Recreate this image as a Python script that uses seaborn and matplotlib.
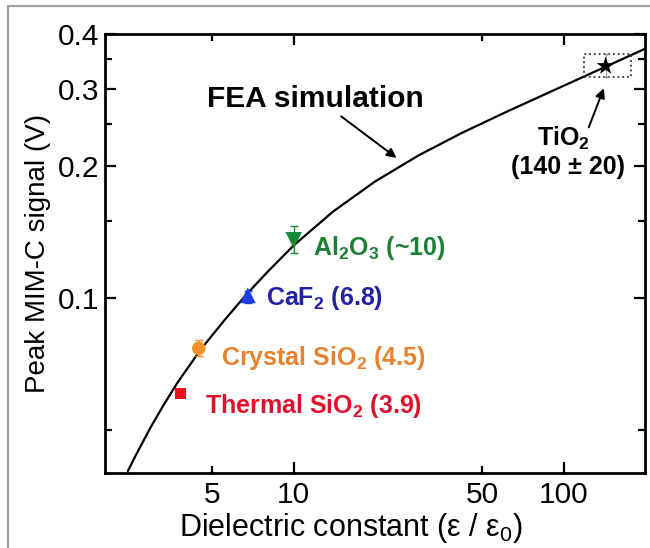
import matplotlib
matplotlib.use('Agg')
import matplotlib.pyplot as plt
from matplotlib.patches import Rectangle
import seaborn as sns

# FEA simulation curve
FEA_EPS = [2.43, 2.6, 2.95, 3.3, 3.72, 4.52, 5.5, 6.64, 8.0, 10.0, 14.0, 20.0, 29.0, 42.0, 62.0, 90.0, 130.0, 201.0]
FEA_V = [0.0404, 0.0439, 0.0508, 0.0572, 0.0644, 0.0764, 0.0887, 0.1016, 0.1149, 0.132,
         0.1577, 0.1845, 0.2116, 0.2382, 0.2667, 0.2961, 0.3281, 0.3707]

# measured films
MAT_LABELS = [r'Thermal SiO$_\mathbf{2}$ (3.9)', r'Crystal SiO$_\mathbf{2}$ (4.5)',
              r'CaF$_\mathbf{2}$ (6.8)', r'Al$_\mathbf{2}$O$_\mathbf{3}$ (~10)']
MAT_EPS = [3.8, 4.45, 6.76, 10.0]
MAT_V = [0.0607, 0.0769, 0.1016, 0.1356]
MAT_V_LO = [0.0607, 0.0737, 0.0974, 0.1267]
MAT_V_HI = [0.0607, 0.0802, 0.1040, 0.1460]
MAT_MARKERS = ['s', 'o', '^', 'v']
MAT_SIZES = [64, 95, 130, 140]
MAT_COLORS = ['#e8101e', '#f39124', '#1f3fe0', '#138a33']
TEXT_COLORS = ['#e0102a', '#e8822e', '#2222a8', '#1b7f35']
LABEL_OFFSETS = [(18, -14.4), (15.8, -12.2), (13, -7.2), (13.7, -10.8)]

# TiO2 point with its uncertainty box
TIO2_EPS = 143.0
TIO2_V = 0.338
TIO2_EPS_RANGE = [119.0, 177.0]
TIO2_V_RANGE = [0.320, 0.361]

X_MAJOR = [10, 100]
X_MINOR = [5, 50]
Y_MAJOR = [0.1, 0.2, 0.3, 0.4]
Y_MINOR = [0.05, 0.15, 0.25, 0.35]

sns.set_theme(style='ticks')
plt.rcParams['font.family'] = ['Liberation Sans', 'DejaVu Sans']
plt.rcParams['mathtext.fontset'] = 'custom'
plt.rcParams['mathtext.rm'] = 'Liberation Sans'
plt.rcParams['mathtext.it'] = 'Liberation Sans:italic'
plt.rcParams['mathtext.bf'] = 'Liberation Sans:bold'
plt.rcParams['text.color'] = 'black'
plt.rcParams['axes.labelcolor'] = 'black'
plt.rcParams['xtick.color'] = 'black'
plt.rcParams['ytick.color'] = 'black'

fig = plt.figure(figsize=(6.5, 5.48), dpi=100)
ax = fig.add_axes([105 / 650, 1 - 473 / 548, 540 / 650, 439 / 548])

sns.lineplot(x=FEA_EPS, y=FEA_V, color='black', lw=1.6, sort=False, ax=ax)

for i in range(len(MAT_EPS)):
    ax.errorbar([MAT_EPS[i]], [MAT_V[i]],
                yerr=[[MAT_V[i] - MAT_V_LO[i]], [MAT_V_HI[i] - MAT_V[i]]],
                fmt='none', ecolor=MAT_COLORS[i], elinewidth=1, capsize=3, zorder=3)
    sns.scatterplot(x=[MAT_EPS[i]], y=[MAT_V[i]], marker=MAT_MARKERS[i], s=MAT_SIZES[i],
                    color=MAT_COLORS[i], edgecolor='none', ax=ax, zorder=4)
    ax.annotate(MAT_LABELS[i], (MAT_EPS[i], MAT_V[i]), xytext=LABEL_OFFSETS[i],
                textcoords='offset points', ha='left', va='baseline',
                fontsize=18, fontweight='bold', color=TEXT_COLORS[i])

# TiO2
ax.add_patch(Rectangle((TIO2_EPS_RANGE[0], TIO2_V_RANGE[0]),
                       TIO2_EPS_RANGE[1] - TIO2_EPS_RANGE[0], TIO2_V_RANGE[1] - TIO2_V_RANGE[0],
                       fill=False, ls=':', lw=1.3, ec='#333333', zorder=2))
ax.errorbar([TIO2_EPS], [TIO2_V], yerr=[[TIO2_V - TIO2_V_RANGE[0]], [TIO2_V_RANGE[1] - TIO2_V]],
            fmt='none', ecolor='#888888', elinewidth=0.6, capsize=2, zorder=3)
sns.scatterplot(x=[TIO2_EPS], y=[TIO2_V], marker='*', s=190, color='black',
                edgecolor='none', ax=ax, zorder=4)

ax.text(100, 0.222, r'TiO$_\mathbf{2}$', ha='center', va='baseline', fontsize=18, fontweight='bold')
ax.text(104, 0.192, '(140 \u00b1 20)', ha='center', va='baseline', fontsize=18, fontweight='bold')
ax.annotate('', xy=(142, 0.305), xytext=(122.7, 0.2418),
            arrowprops=dict(arrowstyle='-|>', color='black', lw=1.4, mutation_scale=14))

ax.text(12.06, 0.273, 'FEA simulation', ha='center', va='baseline', fontsize=21.5, fontweight='bold')
ax.annotate('', xy=(24.5, 0.207), xytext=(14.7, 0.262),
            arrowprops=dict(arrowstyle='-|>', color='black', lw=1.4, mutation_scale=14))

ax.set_xscale('log')
ax.set_yscale('log')
ax.set_xlim(2, 200)
ax.set_ylim(0.04, 0.4)
ax.set_xticks(X_MAJOR, labels=[str(v) for v in X_MAJOR])
ax.set_xticks(X_MINOR, labels=[str(v) for v in X_MINOR], minor=True)
ax.set_yticks(Y_MAJOR, labels=[str(v) for v in Y_MAJOR])
ax.set_yticks(Y_MINOR, labels=['' for v in Y_MINOR], minor=True)
ax.tick_params(which='both', direction='in', top=True, right=True, width=1.6, labelsize=21.5, pad=6)
ax.tick_params(axis='y', which='both', pad=4)
ax.tick_params(which='major', length=8)
ax.tick_params(which='minor', length=5)
for sp in ax.spines.values():
    sp.set_linewidth(2.0)
    sp.set_color('black')

ax.set_xlabel('Dielectric constant (\u03b5 / \u03b5$_0$)', fontsize=22, labelpad=1)
ax.xaxis.label.set_x(0.456)
ax.set_ylabel('Peak MIM-C signal (V)', fontsize=20, labelpad=5)

# thin grey frame of the panel
fig.patches.append(Rectangle((8 / 650, -0.1), 2, 1.1 - 6 / 548, transform=fig.transFigure,
                             fill=False, ec='#a0a0a0', lw=1.5))

fig.savefig('out.png', dpi=100)
